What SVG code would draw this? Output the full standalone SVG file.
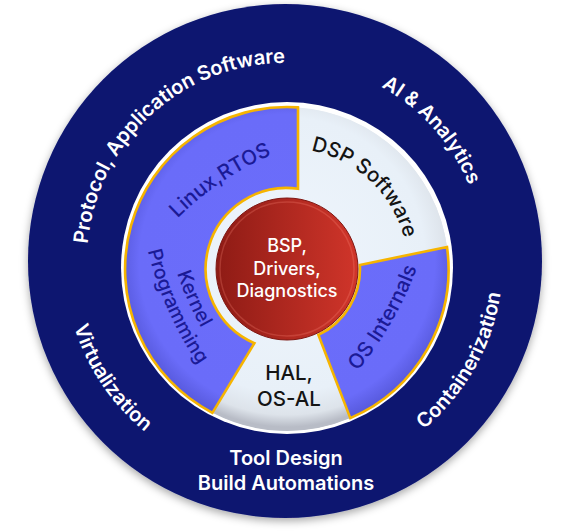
<svg xmlns="http://www.w3.org/2000/svg" width="588" height="531" viewBox="0 0 588 531">
<style>
.outer{font-family:Inter,"Liberation Sans",sans-serif;font-size:20px;font-weight:600;fill:#ffffff}
.seg{font-family:Inter,"Liberation Sans",sans-serif;font-size:20.5px;font-weight:500;fill:#1b1a96}
.dark{font-family:Inter,"Liberation Sans",sans-serif;font-size:20.5px;font-weight:500;fill:#141414}
.core{font-family:Inter,"Liberation Sans",sans-serif;font-size:18px;font-weight:500;fill:#ffffff}
.blue{fill:url(#blueGrad);stroke:#f6b400;stroke-width:2.6;stroke-linejoin:miter}
.light{fill:url(#lightGrad)}
</style>
<defs>
<filter id="shadow" x="-10%" y="-10%" width="120%" height="125%">
<feDropShadow dx="0" dy="3" stdDeviation="4" flood-color="#000" flood-opacity="0.35"/>
</filter>
<radialGradient id="lightGrad" gradientUnits="userSpaceOnUse" cx="287" cy="255" r="172">
<stop offset="0" stop-color="#eef5fc"/>
<stop offset="0.8" stop-color="#e8f0f8"/>
<stop offset="0.93" stop-color="#dde3ea"/>
<stop offset="1" stop-color="#b8bcc6"/>
</radialGradient>
<radialGradient id="blueGrad" gradientUnits="userSpaceOnUse" cx="287" cy="262" r="168">
<stop offset="0" stop-color="#6b6dfb"/>
<stop offset="0.88" stop-color="#6a6cf9"/>
<stop offset="1" stop-color="#5759dc"/>
</radialGradient>
<linearGradient id="redGrad" x1="0" y1="0" x2="1" y2="0">
<stop offset="0" stop-color="#8e1b15"/>
<stop offset="1" stop-color="#d0352a"/>
</linearGradient>
<path id="p-protocol" d="M118.0,367.4 A198,198 0 0 1 405.5,103.9"/>
<path id="p-ai" d="M211.4,76.1 A199,199 0 0 1 460.2,355.3"/>
<path id="p-cont" d="M249,476 A218,218 0 0 0 450.8,119.4"/>
<path id="p-virt" d="M106.2,131.1 A221,221 0 0 0 338.5,475.4"/>
<path id="p-dsp" d="M232.8,160.8 A121,121 0 0 1 398.1,317.0"/>
<path id="p-linux" d="M161.4,235.9 A300,300 0 0 1 294,146.5"/>
<path id="p-os" d="M343.6,386.7 A350,350 0 0 0 423.6,248.1"/>
<path id="p-kernel" d="M163.9,224.3 A350,350 0 0 0 229.1,370.5"/>
<path id="p-prog" d="M143.9,233.3 A350,350 0 0 0 209.1,379.5"/>
</defs>

<g id="outer-ring">
<circle cx="285" cy="261" r="257" fill="#0a146f" filter="url(#shadow)"/>
<text class="outer"><textPath href="#p-protocol" startOffset="50%" text-anchor="middle">Protocol, Application Software</textPath></text>
<text class="outer"><textPath href="#p-ai" startOffset="50%" text-anchor="middle">AI &amp; Analytics</textPath></text>
<text class="outer"><textPath href="#p-cont" startOffset="50%" text-anchor="middle">Containerization</textPath></text>
<text class="outer"><textPath href="#p-virt" startOffset="50%" text-anchor="middle">Virtualization</textPath></text>
<text class="outer" x="286" y="465" text-anchor="middle">Tool Design</text>
<text class="outer" x="286" y="490" text-anchor="middle">Build Automations</text>
</g>

<g id="inner-ring">
<circle cx="287" cy="268" r="166" fill="#ffffff"/>
<circle cx="287" cy="269" r="161.5" class="light"/>
</g>

<g id="connectors"></g>

<g id="seg-dsp">
<path class="light" d="M298,107.4 A162,162 0 0 1 447,247 L359.9,264.9 A77,77 0 0 0 298,188.7 Z"/>
<text class="dark"><textPath href="#p-dsp" startOffset="50%" text-anchor="middle">DSP Software</textPath></text>
</g>

<g id="seg-hal">
<path class="light" d="M212.4,412.8 A162,162 0 0 0 350.3,418.1 L318.4,334.9 A77,77 0 0 1 254.4,343.2 Z"/>
<text class="dark" x="289" y="380" text-anchor="middle">HAL,</text>
<text class="dark" x="289" y="406" text-anchor="middle">OS-AL</text>
</g>

<g id="seg-linux-kernel">
<path class="blue" d="M298,107.4 A162,162 0 0 0 212.4,412.8 L254.4,343.2 A81,81 0 0 1 298,188.7 Z"/>
<text class="seg"><textPath href="#p-linux" startOffset="50%" text-anchor="middle">Linux,RTOS</textPath></text>
<text class="seg" style="font-size:19.5px"><textPath href="#p-kernel" startOffset="50%" text-anchor="middle">Kernel</textPath></text>
<text class="seg" style="font-size:19.5px"><textPath href="#p-prog" startOffset="50%" text-anchor="middle">Programming</textPath></text>
</g>

<g id="seg-os">
<path class="blue" d="M359.9,264.9 L447,247 A162,162 0 0 1 350.3,418.1 L318.4,334.9 A73,73 0 0 0 359.9,264.9 Z"/>
<text class="seg"><textPath href="#p-os" startOffset="50%" text-anchor="middle">OS Internals</textPath></text>
</g>

<g id="core">
<circle cx="287" cy="269" r="71" fill="url(#redGrad)" stroke="#7e1712" stroke-width="1"/>
<circle cx="287" cy="269" r="67" fill="none" stroke="#ff8a7a" stroke-opacity="0.25" stroke-width="1.5"/>
<text class="core" x="287" y="252" text-anchor="middle">BSP,</text>
<text class="core" x="287" y="275" text-anchor="middle">Drivers,</text>
<text class="core" x="287" y="297" text-anchor="middle">Diagnostics</text>
</g>
</svg>
